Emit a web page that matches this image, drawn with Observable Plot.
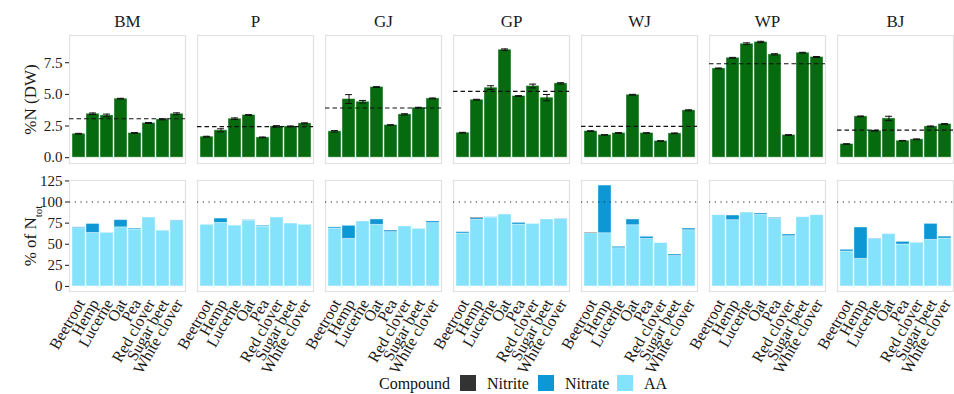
<!DOCTYPE html>
<html>
<head>
<meta charset="utf-8">
<script src="https://cdn.jsdelivr.net/npm/d3@7"></script>
<script src="https://cdn.jsdelivr.net/npm/@observablehq/plot@0.6"></script>
<style>
  body { margin: 0; background: white; font-family: "Liberation Serif", "Times New Roman", Times, "DejaVu Serif", serif; overflow: hidden; }
  #wrap { width: 954px; height: 394px; position: relative; overflow: hidden; }
  #wrap svg { display: block; overflow: visible; }
  #wrap svg, #wrap svg text { font-family: "Liberation Serif", "Times New Roman", Times, "DejaVu Serif", serif !important; }
  #legend { position: absolute; left: 0; top: 372px; }
</style>
</head>
<body>
<div id="wrap"></div>
<script>
const groups = ["BM", "P", "GJ", "GP", "WJ", "WP", "BJ"];
const crops = ["Beetroot", "Hemp", "Lucerne", "Oat", "Pea", "Red clover", "Sugar beet", "White clover"];

// %N (DW), per group, per crop
const nBM = [1.89, 3.47, 3.34, 4.66, 1.95, 2.74, 3.03, 3.47];
const nP  = [1.66, 2.16, 3.08, 3.37, 1.60, 2.47, 2.47, 2.71];
const nGJ = [2.08, 4.63, 4.42, 5.58, 2.58, 3.42, 3.95, 4.68];
const nGP = [1.97, 4.58, 5.53, 8.53, 4.87, 5.66, 4.74, 5.87];
const nWJ = [2.10, 1.80, 1.95, 4.97, 1.95, 1.32, 1.92, 3.74];
const nWP = [7.05, 7.89, 9.00, 9.14, 8.16, 1.79, 8.29, 7.95];
const nBJ = [1.08, 3.26, 2.13, 3.10, 1.34, 1.45, 2.47, 2.66];
// error (half-width) of %N
const eBM = [0.03, 0.06, 0.10, 0.03, 0.03, 0.04, 0.04, 0.07];
const eP  = [0.03, 0.12, 0.06, 0.03, 0.03, 0.06, 0.03, 0.04];
const eGJ = [0.06, 0.35, 0.10, 0.03, 0.02, 0.05, 0.03, 0.03];
const eGP = [0.03, 0.03, 0.15, 0.06, 0.03, 0.15, 0.25, 0.05];
const eWJ = [0.03, 0.02, 0.03, 0.03, 0.02, 0.02, 0.03, 0.04];
const eWP = [0.03, 0.03, 0.07, 0.05, 0.05, 0.03, 0.03, 0.04];
const eBJ = [0.02, 0.03, 0.03, 0.17, 0.02, 0.03, 0.03, 0.03];
// group mean (dashed line)
const meanN = [3.08, 2.45, 3.92, 5.24, 2.47, 7.42, 2.18];

// % of Ntot: AA, Nitrate, Nitrite
const aaBM = [69, 63.5, 63.5, 70, 67.5, 81.6, 66, 77.5];
const aaP  = [73, 75.3, 72, 78, 71, 81.6, 74.5, 73];
const aaGJ = [68.6, 56.4, 76.9, 73, 64.3, 71, 68.2, 75];
const aaGP = [62.7, 78.9, 81.6, 85.2, 73.3, 74, 79.3, 80];
const aaWJ = [63, 63, 45.3, 72.5, 56.4, 51.3, 36, 66.6];
const aaWP = [84.4, 78.5, 87.5, 84.8, 80, 59.5, 82, 84.4];
const aaBJ = [41.4, 32.7, 56.4, 62, 49.7, 51.7, 55.2, 56.8];
const no3BM = [1, 10.5, 0, 8.5, 1.1, 0, 0, 0.7];
const no3P  = [0, 5.1, 0, 0.5, 1, 0, 0, 0];
const no3GJ = [1.4, 15.4, 0, 6.3, 1.9, 0, 0, 2];
const no3GP = [1.6, 1.9, 0.3, 0, 2, 0, 0, 0.3];
const no3WJ = [0, 56.5, 1.7, 6.8, 2.4, 0, 1.8, 2];
const no3WP = [0, 5.5, 0, 1.6, 1.2, 2, 0, 0];
const no3BJ = [2, 37.1, 0.4, 0, 3.1, 0, 18.9, 2.2];
const no2BM = [0, 0, 0, 0, 0, 0, 0, 0];
const no2P  = [0, 0, 0, 0, 0, 0, 0, 0];
const no2GJ = [0, 0, 0, 0, 0, 0, 0, 0];
const no2GP = [0, 0.8, 0, 0, 0, 0, 0, 0];
const no2WJ = [0.7, 0, 0, 0, 0, 0, 0, 0];
const no2WP = [0, 0, 0, 0, 0, 0, 0, 0];
const no2BJ = [0, 0, 0, 0, 0, 0, 0, 0];

const compounds = ["Nitrite", "Nitrate", "AA"];
const compoundColors = ["#333333", "#0e97d5", "#84e2fc"];

const nSeries = [nBM, nP, nGJ, nGP, nWJ, nWP, nBJ];
const eSeries = [eBM, eP, eGJ, eGP, eWJ, eWP, eBJ];
const aaSeries = [aaBM, aaP, aaGJ, aaGP, aaWJ, aaWP, aaBJ];
const no3Series = [no3BM, no3P, no3GJ, no3GP, no3WJ, no3WP, no3BJ];
const no2Series = [no2BM, no2P, no2GJ, no2GP, no2WJ, no2WP, no2BJ];

const nRows = [];
groups.forEach((g, i) => crops.forEach((c, j) => nRows.push({group: g, crop: c, value: nSeries[i][j], err: eSeries[i][j]})));
const meanRows = groups.map((g, i) => ({group: g, mean: meanN[i]}));
const pctRows = [];
groups.forEach((g, i) => crops.forEach((c, j) => {
  pctRows.push({group: g, crop: c, compound: "AA", value: aaSeries[i][j]});
  pctRows.push({group: g, crop: c, compound: "Nitrate", value: no3Series[i][j]});
  pctRows.push({group: g, crop: c, compound: "Nitrite", value: no2Series[i][j]});
}));

const font = "'Liberation Serif', 'Times New Roman', Times, 'DejaVu Serif', serif";
const frameColor = "#e2e2e2";
const common = {
  width: 954,
  marginLeft: 69,
  marginRight: 1,
  style: {fontFamily: font, color: "#1a1a1a", background: "white"},
  fx: {domain: groups, paddingInner: 0.094, paddingOuter: 0},
  x: {domain: crops, paddingInner: 0.1, paddingOuter: 0.15}
};

const topChart = Plot.plot({
  ...common,
  height: 165,
  marginTop: 35,
  marginBottom: 2,
  y: {domain: [-0.46, 9.65]},
  marks: [
    Plot.frame({stroke: frameColor, strokeWidth: 1.2}),
    Plot.barY(nRows, {fx: "group", x: "crop", y: "value", fill: "#066b0f", stroke: "white", strokeOpacity: 0.55, strokeWidth: 0.8}),
    Plot.ruleX(nRows, {fx: "group", x: "crop", y1: d => d.value - d.err, y2: d => d.value + d.err, stroke: "#111", strokeWidth: 1}),
    Plot.tickY(nRows, {fx: "group", x: "crop", y: d => d.value - d.err, insetLeft: 3, insetRight: 3, stroke: "#111", strokeWidth: 1}),
    Plot.tickY(nRows, {fx: "group", x: "crop", y: d => d.value + d.err, insetLeft: 3, insetRight: 3, stroke: "#111", strokeWidth: 1}),
    Plot.ruleY(meanRows, {fx: "group", y: "mean", stroke: "#111", strokeWidth: 1.1, strokeDasharray: "4.5,3"}),
    Plot.axisFx({anchor: "top", tickSize: 0, tickPadding: 9, label: null, fontSize: 17}),
    Plot.axisX({ticks: [], label: null, tickSize: 0}),
    Plot.axisY({ticks: [0, 2.5, 5, 7.5], tickFormat: d3.format(".1f"), tickSize: 4, tickPadding: 3, fontSize: 15,
      label: "%N (DW)", labelAnchor: "center", labelArrow: "none", labelOffset: 46})
  ]
});

const bottomChart = Plot.plot({
  ...common,
  height: 215,
  marginTop: 15,
  marginBottom: 89,
  y: {domain: [-6, 125.5]},
  color: {domain: compounds, range: compoundColors},
  marks: [
    Plot.frame({stroke: frameColor, strokeWidth: 1.2}),
    Plot.barY(pctRows, {fx: "group", x: "crop", y: "value", fill: "compound", stroke: "white", strokeOpacity: 0.45, strokeWidth: 0.8}),
    Plot.ruleY([100], {stroke: "#222", strokeWidth: 1.2, strokeDasharray: "1.2,4.5"}),
    Plot.axisFx({ticks: [], label: null, tickSize: 0}),
    Plot.axisX({tickRotate: -60, tickSize: 0, tickPadding: 6, fontSize: 16, label: null, dx: 2, dy: 3}),
    Plot.axisY({ticks: [0, 25, 50, 75, 100, 125], tickSize: 4, tickPadding: 3, fontSize: 15,
      label: "% of Ntot", labelAnchor: "center", labelArrow: "none", labelOffset: 46})
  ]
});

const wrap = document.getElementById("wrap");
wrap.appendChild(topChart);
wrap.appendChild(bottomChart);

// axis title font sizes and subscript
d3.select(topChart).selectAll('g[aria-label="y-axis label"] text').attr("font-size", 17);
const lab = d3.select(bottomChart).selectAll('g[aria-label="y-axis label"] text').attr("font-size", 17);
lab.each(function() {
  const t = d3.select(this);
  t.text(null);
  t.append("tspan").text("% of N");
  t.append("tspan").attr("baseline-shift", "sub").attr("font-size", 11).text("tot");
});

// legend (SVG, same serif font as the chart)
const legendItems = [
  {x: 379, label: "Compound", color: null},
  {x: 460, label: "Nitrite", color: compoundColors[0]},
  {x: 538, label: "Nitrate", color: compoundColors[1]},
  {x: 617, label: "AA", color: compoundColors[2]}
];
const leg = d3.select(wrap).append("svg").attr("id", "legend")
  .attr("width", 954).attr("height", 22)
  .style("font-family", font);
for (const it of legendItems) {
  let tx = it.x;
  if (it.color) {
    leg.append("rect").attr("x", it.x).attr("y", 3).attr("width", 16).attr("height", 16).attr("fill", it.color);
    tx = it.x + 27;
  }
  leg.append("text").attr("x", tx).attr("y", 16.5).attr("font-size", 16).attr("fill", "#111").text(it.label);
}
</script>
</body>
</html>
